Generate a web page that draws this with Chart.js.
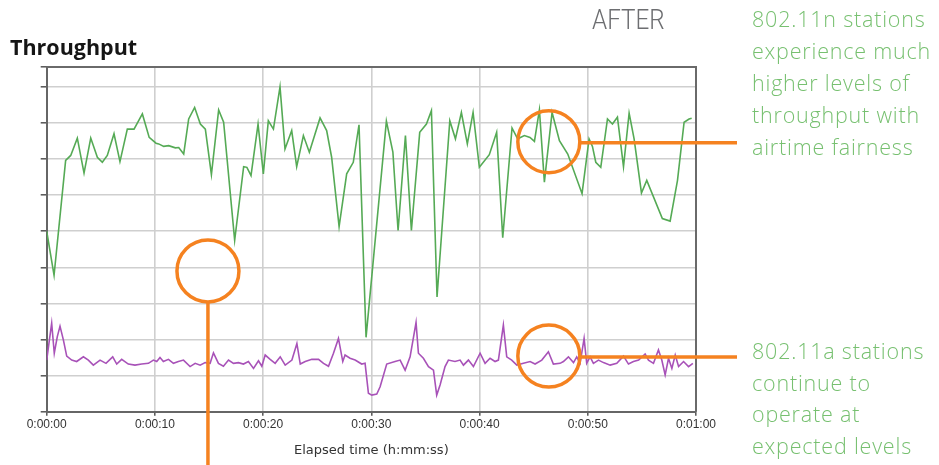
<!DOCTYPE html>
<html>
<head>
<meta charset="utf-8">
<script src="https://cdn.jsdelivr.net/npm/chart.js@4"></script>
<style>
  html, body { margin:0; padding:0; background:#fff; }
  #wrap { position:relative; width:939px; height:465px; overflow:hidden; }
  #c { position:absolute; left:0; top:0; }
  .txt { position:absolute; white-space:nowrap; }
  #title { left:10px; top:36px; font-family:"Open Sans",sans-serif; font-weight:700; font-size:21.5px; line-height:21px; color:#151515; }
  #after { left:592px; top:6px; font-family:Roboto,sans-serif; font-weight:300; font-size:28px; line-height:28px; color:#6d6e71; transform:scaleX(0.865); transform-origin:left top; }
  .note { font-family:"Open Sans",sans-serif; font-weight:300; font-size:21.5px; letter-spacing:0.8px; color:#77c070; }
  #note1 { left:752px; top:3px; line-height:32px; }
  #note2 { left:752px; top:335px; line-height:31.5px; }
</style>
</head>
<body>
<div id="wrap">
  <canvas id="c" width="939" height="465"></canvas>
  <div class="txt" id="title">Throughput</div>
  <div class="txt" id="after">AFTER</div>
  <div class="txt note" id="note1">802.11n stations<br>experience much<br>higher levels of<br>throughput with<br>airtime fairness</div>
  <div class="txt note" id="note2">802.11a stations<br>continue to<br>operate at<br>expected levels</div>
</div>
<script>
// ---- data (seconds, throughput units) ----
const xTickLabels = ['0:00:00','0:00:10','0:00:20','0:00:30','0:00:40','0:00:50','0:01:00'];

const nTime = [0,0.68,1.75,2.22,2.83,3.45,4.07,4.68,5.14,5.6,6.22,6.77,7.45,8.07,8.84,9.47,10.1,10.35,10.81,11.27,11.89,12.2,12.66,13.12,13.67,14.2,14.66,15.22,15.89,16.35,17.37,18.2,18.5,18.88,19.53,20.02,20.48,20.95,21.56,22.02,22.64,23.1,23.72,24.27,25.26,25.87,26.33,27.02,27.72,28.33,28.86,29.51,31.39,31.99,32.47,33.15,33.7,34.47,35.09,35.55,36.07,37.25,37.77,38.32,38.87,39.4,39.98,40.9,41.58,42.14,43.0,43.52,44.14,44.66,45.07,45.53,45.99,46.7,47.38,48.15,49.47,50.12,50.43,50.74,51.2,51.82,52.28,52.74,53.3,53.82,54.28,54.96,55.45,56.89,57.61,58.29,58.9,59.36,59.6];
const nValues = [5.0,3.78,6.96,7.1,7.58,6.61,7.58,7.05,6.91,7.1,7.7,6.93,7.83,7.83,8.25,7.6,7.44,7.42,7.35,7.37,7.31,7.32,7.14,8.11,8.43,7.97,7.83,6.57,8.36,8.02,4.75,6.79,6.77,6.54,7.97,6.59,8.06,7.83,9.0,7.28,7.79,6.79,7.65,7.19,8.14,7.79,7.05,5.13,6.59,6.91,7.95,2.06,8.05,7.19,5.02,7.65,5.02,7.74,7.97,8.34,3.18,8.06,7.56,8.29,7.42,8.29,6.77,7.12,7.74,4.82,7.86,7.56,7.65,7.6,7.49,8.36,6.36,8.29,7.51,7.14,6.04,7.56,7.35,6.91,6.77,8.11,7.97,8.16,6.79,8.27,7.56,6.06,6.41,5.35,5.28,6.41,8.02,8.11,8.13];

const aTime = [0,0.25,0.46,0.7,0.98,1.23,1.54,1.85,2.31,2.77,3.39,3.85,4.31,4.93,5.48,6.1,6.47,6.93,7.54,8.16,8.78,9.4,9.86,10.17,10.47,10.78,11.25,11.71,12.17,12.64,13.25,13.72,14.18,14.64,15.1,15.41,15.87,16.33,16.8,17.26,17.72,18.18,18.64,19.11,19.57,19.88,20.19,20.65,21.11,21.58,22.04,22.66,23.12,23.43,23.89,24.5,25.12,25.58,26.04,26.5,26.96,27.36,27.57,28.03,28.5,29.11,29.42,29.73,30.04,30.5,30.81,31.42,32.19,32.66,33.12,33.58,34.13,34.35,34.81,35.28,35.74,36.04,36.35,36.81,37.12,37.73,38.2,38.51,38.97,39.43,40.05,40.51,40.97,41.43,41.74,42.2,42.51,42.97,43.44,44.05,44.67,45.13,45.75,46.36,46.82,47.44,47.75,48.21,48.68,48.98,49.29,49.66,49.9,50.21,50.52,50.99,51.45,52.07,52.68,53.3,53.76,54.22,54.7,55.3,55.61,56.07,56.53,56.84,57.15,57.46,57.77,58.08,58.39,58.85,59.31,59.71];
const aValues = [1.43,1.99,2.45,1.62,2.08,2.37,1.99,1.54,1.43,1.39,1.52,1.43,1.29,1.43,1.34,1.52,1.32,1.45,1.32,1.29,1.32,1.34,1.43,1.39,1.5,1.39,1.45,1.34,1.39,1.43,1.25,1.34,1.29,1.36,1.34,1.63,1.34,1.26,1.43,1.34,1.36,1.32,1.39,1.2,1.41,1.26,1.57,1.45,1.34,1.52,1.29,1.43,1.89,1.32,1.39,1.45,1.45,1.34,1.26,1.62,2.03,1.39,1.57,1.48,1.43,1.32,1.34,0.51,0.46,0.49,0.69,1.32,1.39,1.43,1.15,1.52,2.47,1.62,1.48,1.25,1.15,0.46,0.74,1.25,1.43,1.39,1.43,1.29,1.43,1.25,1.62,1.34,1.48,1.39,1.43,2.4,1.52,1.43,1.29,1.34,1.39,1.32,1.43,1.66,1.32,1.34,1.39,1.52,1.36,1.52,1.34,2.03,1.34,1.52,1.34,1.43,1.36,1.29,1.34,1.54,1.32,1.39,1.43,1.6,1.43,1.34,1.71,1.43,1.02,1.48,1.2,1.57,1.25,1.39,1.25,1.34];

// callout circles anchored in data coordinates
const calloutTime  = [46.4, 46.4, 14.9];
const calloutValue = [7.48, 1.54, 3.9];

const toPoints = (ts, vs) => ts.map((t, i) => ({x: t, y: vs[i]}));

const ORANGE = '#f58220';

const framePlugin = {
  id: 'frame',
  afterDatasetsDraw(chart) {
    const {ctx, chartArea: a} = chart;
    ctx.save();
    ctx.strokeStyle = '#6a6a6a';
    ctx.lineWidth = 2;
    ctx.beginPath();
    ctx.moveTo(a.left, a.top);
    ctx.lineTo(a.right, a.top);
    ctx.lineTo(a.right, a.bottom);
    ctx.stroke();
    ctx.restore();
  },
  afterDraw(chart) {
    const {ctx} = chart;
    const xs = chart.scales.x, ys = chart.scales.y;
    const r = 31;
    ctx.save();
    ctx.strokeStyle = ORANGE;
    ctx.lineWidth = 3.5;
    calloutTime.forEach((t, i) => {
      const cx = xs.getPixelForValue(t);
      const cy = ys.getPixelForValue(calloutValue[i]);
      ctx.beginPath();
      ctx.arc(cx, cy, r, 0, Math.PI * 2);
      ctx.stroke();
      ctx.beginPath();
      if (i < 2) {
        ctx.moveTo(cx + r, cy + 1);
        ctx.lineTo(737, cy + 1);
      } else {
        ctx.moveTo(cx, cy + r);
        ctx.lineTo(cx, chart.height + 5);
      }
      ctx.stroke();
    });
    ctx.restore();
  }
};

new Chart(document.getElementById('c'), {
  type: 'line',
  data: {
    datasets: [
      { label: '802.11n', data: toPoints(nTime, nValues), borderColor: '#55aa55', borderWidth: 1.6, pointRadius: 0, tension: 0, fill: false },
      { label: '802.11a', data: toPoints(aTime, aValues), borderColor: '#a852b8', borderWidth: 1.6, pointRadius: 0, tension: 0, fill: false }
    ]
  },
  options: {
    responsive: false,
    animation: false,
    events: [],
    layout: { padding: { top: 67, right: 243, left: 0, bottom: 0 } },
    plugins: { legend: { display: false }, tooltip: { enabled: false }, title: { display: false } },
    scales: {
      x: {
        type: 'linear', min: 0, max: 60,
        ticks: {
          stepSize: 10, autoSkip: false, maxRotation: 0, padding: 2,
          color: '#333', font: { family: 'Liberation Sans', size: 12 },
          callback: (v) => xTickLabels[Math.round(v / 10)]
        },
        grid: { color: '#cfcfcf', lineWidth: 1.6, tickLength: 4, tickColor: '#555', tickWidth: 1.5 },
        border: { color: '#666', width: 2 },
        title: { display: true, text: 'Elapsed time (h:mm:ss)', color: '#333', font: { family: 'DejaVu Sans', size: 13 }, padding: { top: 0, bottom: 7 } },
        afterFit(s) { s.height = 53.3; }
      },
      y: {
        type: 'linear', min: 0, max: 9.55,
        ticks: { stepSize: 1, display: false },
        grid: { color: '#cfcfcf', lineWidth: 1.6, tickLength: 6, tickColor: '#555', tickWidth: 1.5 },
        border: { color: '#666', width: 2 },
        afterFit(s) { s.width = 46.7; }
      }
    }
  },
  plugins: [framePlugin]
});
</script>
</body>
</html>
